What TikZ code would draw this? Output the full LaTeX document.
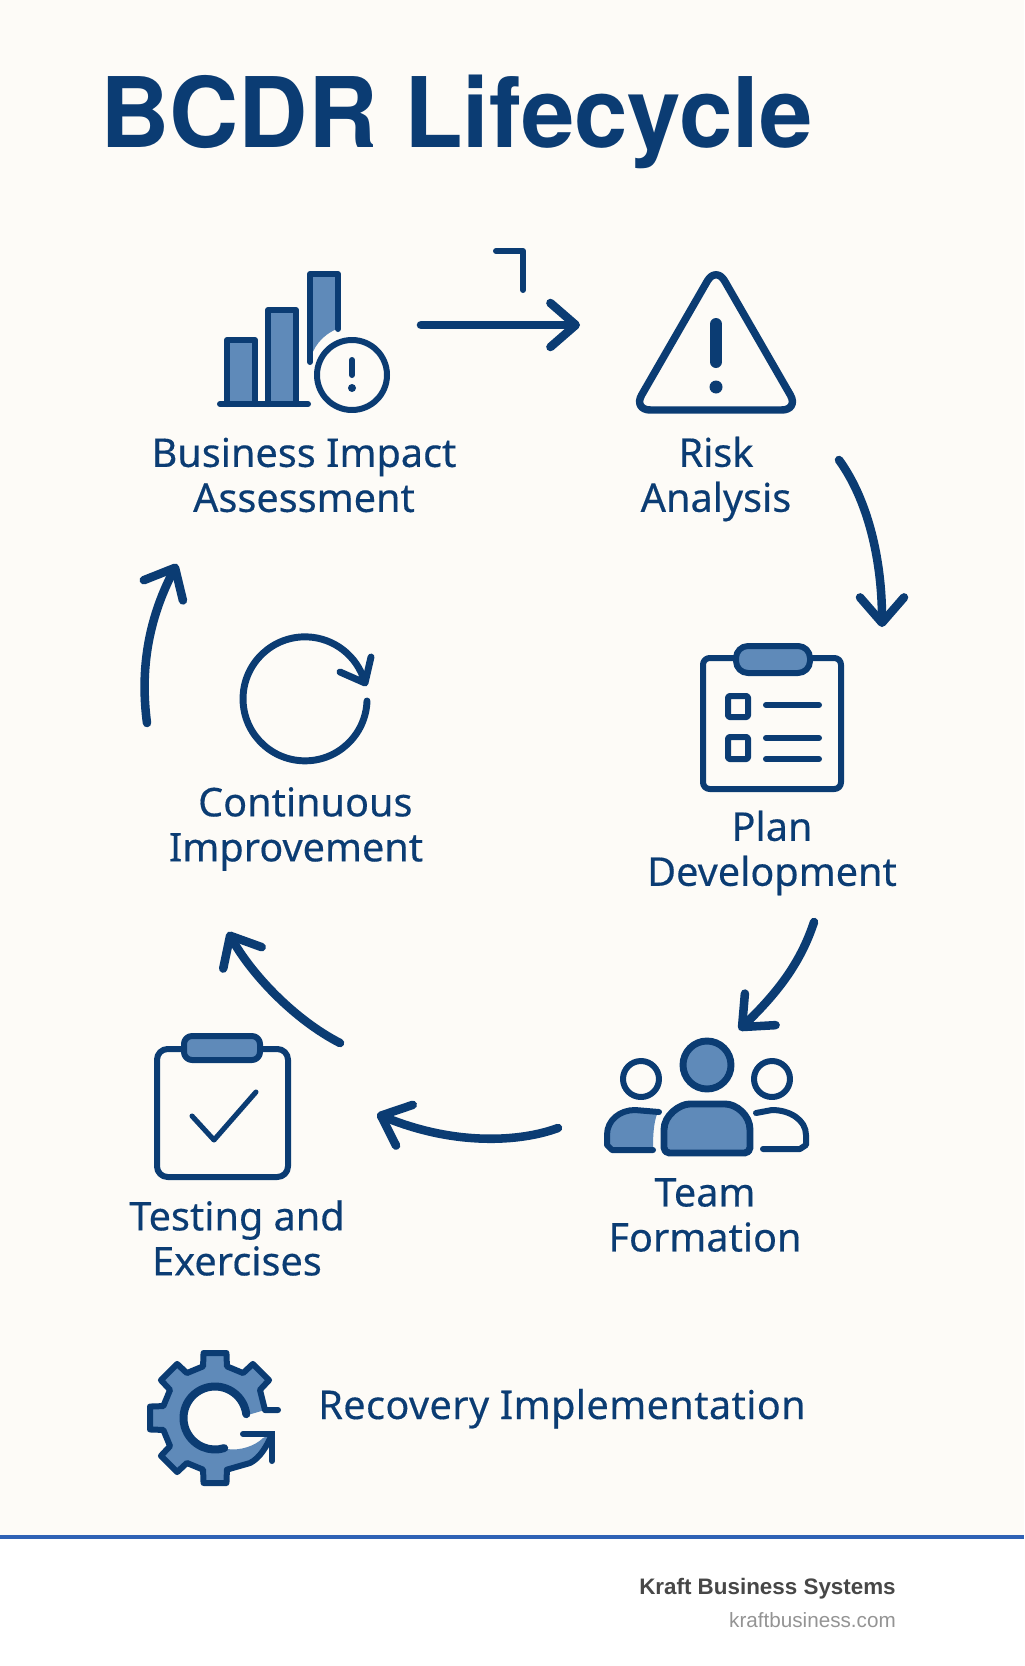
\documentclass[tikz,border=0pt]{standalone}
\usepackage{fontspec}
\setmainfont{Noto Sans}[FakeBold=0.35]
\newfontfamily\titlefont{TeX Gyre Heros}[FakeStretch=0.986]
\newfontfamily\footfont{Liberation Sans}
\newfontface\labelfont{Noto Sans}[FakeBold=0.35]
\usetikzlibrary{arrows.meta}
\definecolor{navy}{HTML}{0B3C73}
\definecolor{midblue}{HTML}{5F8AB9}
\definecolor{paper}{HTML}{FDFBF7}
\definecolor{rulecol}{HTML}{2F62B5}
\tikzset{>={Straight Barb[length=19pt,width=33pt,round]}}
\tikzset{
    flow/.style={navy, line width=6.4pt, line cap=round},
    icon/.style={navy, line width=4.5pt, line cap=round, line join=round},
    fillicon/.style={icon, fill=midblue},
    label/.style={navy, align=center, inner sep=0pt, font=\fontsize{29.7pt}{33.75pt}\selectfont\labelfont}
}
\newcommand{\gearteeth}{\foreach \a in {315,270,225,180,135,90} { -- (\a+13:53) -- (\a+10:66) -- (\a-10:66) -- (\a-13:53) }}
\begin{document}
\begin{tikzpicture}[x=0.75pt,y=-0.75pt]
    \useasboundingbox (0,0) rectangle (1024,1666);
    \fill[paper] (0,0) rectangle (1024,1537);
    \fill[white] (0,1537) rectangle (1024,1666);
    \draw[rulecol, line width=2.4pt] (0,1537) -- (1024,1537);
    \node (title) at (100,147) [anchor=base west, navy, inner sep=0pt, font=\fontsize{73pt}{80pt}\selectfont\titlefont\bfseries] {BCDR Lifecycle};
    \node (bia) at (304,475) [label] {Business Impact\\Assessment};
    \node (risk) at (716,479) [label] {Risk\\Analysis};
    \node (plan) at (772,853) [label] {Plan\\Development};
    \node (improve) at (296,829) [label] {Continuous\hspace*{-14pt}\\Improvement};
    \node (team) at (705,1215) [label] {Team\\Formation};
    \node (testing) at (237,1238) [label] {Testing and\\Exercises};
    \node (recovery) at (318,1419) [label, anchor=base west] {\addfontfeature{LetterSpace=1}Recovery Implementation};
    \node (kraft) at (896,1589) [anchor=east, inner sep=0pt, color=black!72, font=\fontsize{16.8pt}{20pt}\selectfont\footfont\bfseries] {Kraft Business Systems};
    \node (site) at (896,1620) [anchor=east, inner sep=0pt, color=black!42, font=\fontsize{15.5pt}{20pt}\selectfont\footfont] {kraftbusiness.com};
    \coordinate (biaout) at (421,325);
    \coordinate (riskin) at (580,325);
    \coordinate (riskout) at (839,460);
    \coordinate (planin) at (882,627);
    \coordinate (planout) at (814,922);
    \coordinate (teamin) at (739,1030);
    \coordinate (teamout) at (558,1128);
    \coordinate (testin) at (377,1114);
    \coordinate (testout) at (340,1043);
    \coordinate (impin) at (228,932);
    \coordinate (impout) at (147,723);
    \coordinate (biain) at (177,564);
    \draw[flow,->] (biaout) -- (riskin);
    \draw[flow,->] (riskout) .. controls (868,500) and (882,560) .. (planin);
    \draw[flow,->] (planout) .. controls (800,965) and (775,995) .. (teamin);
    \draw[flow,->] (teamout) .. controls (520,1142) and (455,1146) .. (testin);
    \draw[flow,->] (testout) .. controls (295,1020) and (252,975) .. (impin);
    \draw[flow,->] (impout) .. controls (140,670) and (148,620) .. (biain);
    \draw[icon] (496,251) -- (523,251) -- (523,290);
    \fill[midblue] (310,274) -- (337,274) -- (337,329) .. controls (322,335) and (312,348) .. (310,362) -- cycle;
    \draw[icon] (310,362) -- (310,274) -- (338,274) -- (338,329);
    \draw[fillicon] (227,404) -- (227,340) -- (255,340) -- (255,404);
    \draw[fillicon] (268,404) -- (268,310) -- (296,310) -- (296,404);
    \draw[icon] (220,404) -- (308,404);
    \draw[icon] (352,375) circle (35);
    \draw[icon] (352,360) -- (352,375);
    \fill[navy] (352,388) circle (4);
    \draw[icon, rounded corners=13pt, line width=5.6pt] (716,266) -- (633,410) -- (799,410) -- cycle;
    \draw[navy, line width=9pt, line cap=round] (716,324) -- (716,362);
    \fill[navy] (716,387) circle (6.5);
    \draw[icon, rounded corners=5pt] (703,658) rectangle (841,789);
    \draw[fillicon, rounded corners=9pt] (736,646) rectangle (810,673);
    \draw[icon, rounded corners=1pt] (728,696) rectangle (748,717);
    \draw[icon, rounded corners=1pt] (728,737) rectangle (748,759);
    \foreach \y in {705,738,759}
        \draw[icon] (766,\y) -- (819,\y);
    \draw[icon, line width=5.2pt] (305+62,701) arc (2:344:62);
    \draw[icon, line width=5.2pt] (340,672) -- (365,683) -- (371,657);
    \draw[icon, rounded corners=8pt] (157,1049) rectangle (288,1177);
    \draw[fillicon, rounded corners=6pt] (184,1036) rectangle (260,1060);
    \draw[icon, line width=3.8pt] (192,1116) -- (214,1140) -- (256,1092);
    \draw[fillicon, line width=5.2pt] (707,1065) circle (24);
    \draw[icon] (641,1079) circle (18);
    \draw[icon] (772,1079) circle (18);
    \draw[fillicon, line width=5.2pt, rounded corners=4pt] (664,1153) -- (664,1135) .. controls (664,1115) and (680,1104) .. (695,1104) -- (720,1104) .. controls (736,1104) and (750,1115) .. (750,1135) -- (750,1153) -- cycle;
    \fill[midblue] (653,1150) -- (612,1150) -- (607,1145) -- (607,1135) .. controls (607,1120) and (620,1110) .. (635,1110) -- (658,1112) .. controls (653,1122) and (653,1140) .. (653,1150);
    \draw[icon] (659,1112) -- (635,1110) .. controls (620,1110) and (607,1120) .. (607,1135) -- (607,1145) -- (612,1150) -- (653,1150);
    \draw[icon] (756,1113) -- (772,1110) .. controls (790,1110) and (806,1120) .. (806,1135) -- (806,1145) -- (800,1149) -- (763,1149);
    \begin{scope}[shift={(215,1418)}]
        \fill[midblue] (50,-8) \gearteeth -- (35,45) .. controls (45,40) and (52,28) .. (57,16) -- (48,20) .. controls (40,28) and (25,33) .. (12,31) arc (69:352:31.5) -- cycle;
        \draw[icon] (63,-8) -- (50,-8) \gearteeth -- (35,45) .. controls (45,40) and (52,28) .. (57,16);
        \draw[icon, line width=6pt] (-7:31.5) arc (-7:-287:31.5);
        \draw[icon, line join=miter] (28,16) -- (57,16) -- (57,43);
    \end{scope}
\end{tikzpicture}
\end{document}
